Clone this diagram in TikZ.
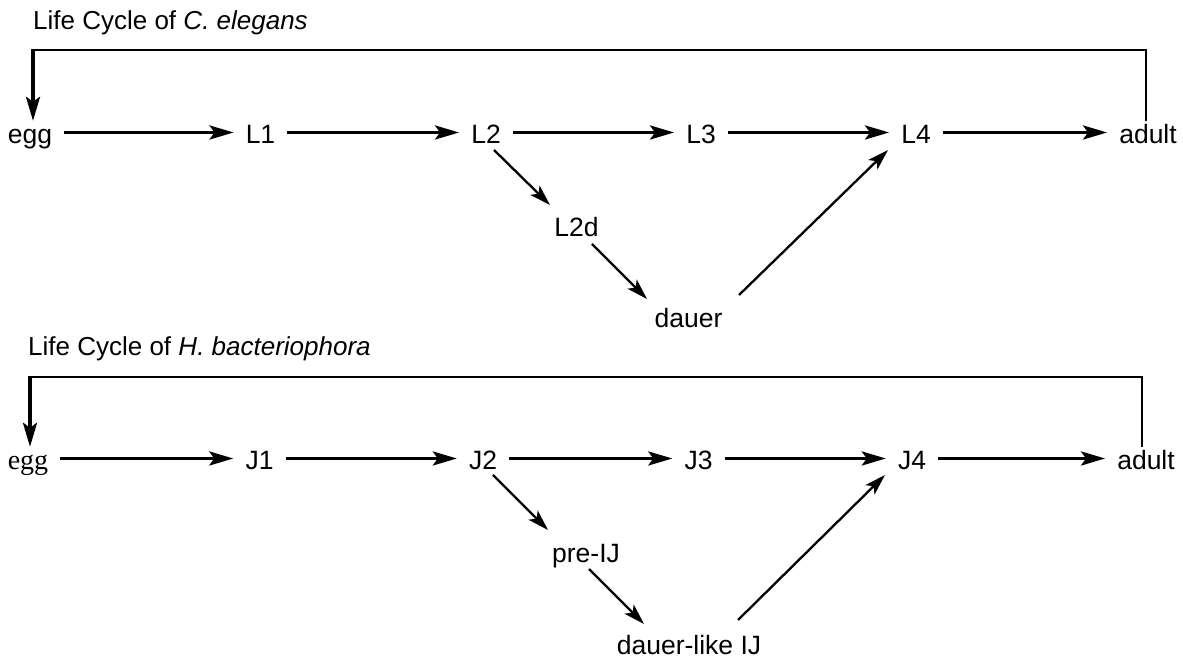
\documentclass[tikz,border=0pt]{standalone}
\usepackage{fontspec}
\setmainfont{Liberation Sans}
\newfontfamily\eggserif{Liberation Serif}
\usetikzlibrary{arrows.meta}
\begin{document}
\begin{tikzpicture}[x=1pt,y=1pt,
  stage/.style={font=\fontsize{26.5}{30}\selectfont, inner xsep=12pt, inner ysep=0pt,
                text height=23pt, text depth=0pt, anchor=base},
  heading/.style={font=\fontsize{26}{30}\selectfont, inner sep=0pt, anchor=base west},
  flow/.style={line width=3.4pt, -{Stealth[length=24pt,width=14pt,inset=5pt]}},
  branch/.style={line width=2.3pt, -{Stealth[length=21pt,width=13pt,inset=5pt]}},
  loopline/.style={line width=2pt}]
\useasboundingbox (0,0) rectangle (1183,660);

% ---------- C. elegans ----------
\node[heading] (t1) at (33,630) {Life Cycle of \textit{C. elegans}};
\node[stage] (egg1)  at (30,516)    {egg};
\node[stage] (L1)    at (260.5,516) {L1};
\node[stage] (L2)    at (486,516)   {L2};
\node[stage] (L3)    at (701,516)   {L3};
\node[stage] (L4)    at (916,516)   {L4};
\node[stage] (adult1) at (1148,516) {adult};
\node[stage] (L2d)   at (576.5,423) {L2d};
\node[stage] (dauer) at (688.5,332) {dauer};

\draw[flow] (egg1) -- (L1);
\draw[flow] (L1) -- (L2);
\draw[flow] (L2) -- (L3);
\draw[flow] (L3) -- (L4);
\draw[flow] (L4) -- (adult1);
\draw[branch] ([shift={(8,-6)}]L2.base) -- ([shift={(-26.5,32)}]L2d.base);
\draw[branch] ([shift={(15.5,-7)}]L2d.base) -- ([shift={(-41.5,29)}]dauer.base);
\draw[branch] ([shift={(50.5,33)}]dauer.base) -- ([shift={(-28,-6)}]L4.base);

\coordinate (r1) at (33,610);
\draw[loopline] ([xshift=-2pt]adult1.north) |- (r1);
\draw[flow] ([yshift=1pt]r1) -- (r1 |- egg1.north);

% ---------- H. bacteriophora ----------
\node[heading] (t2) at (28,304) {Life Cycle of \textit{H. bacteriophora}};
\node[stage, font=\eggserif\fontsize{28}{30}\selectfont] (egg2) at (28,190) {egg};
\node[stage] (J1)    at (259.5,190) {J1};
\node[stage] (J2)    at (483,190)   {J2};
\node[stage] (J3)    at (698.5,190) {J3};
\node[stage] (J4)    at (912,190)   {J4};
\node[stage] (adult2) at (1146,190) {adult};
\node[stage] (preIJ) at (586,97)    {pre-IJ};
\node[stage] (IJ)    at (689,5)     {dauer-like IJ};

\draw[flow] (egg2) -- (J1);
\draw[flow] (J1) -- (J2);
\draw[flow] (J2) -- (J3);
\draw[flow] (J3) -- (J4);
\draw[flow] (J4) -- (adult2);
\draw[branch] ([shift={(10,-5)}]J2.base) -- ([shift={(-38,33)}]preIJ.base);
\draw[branch] ([shift={(3,-6)}]preIJ.base) -- ([shift={(-45,31)}]IJ.base);
\draw[branch] ([shift={(49,35)}]IJ.base) -- ([shift={(-27,-5)}]J4.base);

\coordinate (r2) at (30,283);
\draw[loopline] ([xshift=-4pt]adult2.north) |- (r2);
\draw[flow] ([yshift=1pt]r2) -- (r2 |- egg2.north);
\end{tikzpicture}
\end{document}
